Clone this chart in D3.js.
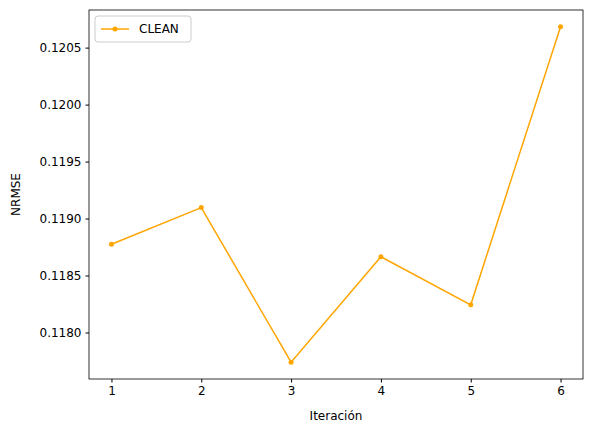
<!DOCTYPE html>
<html><head><meta charset="utf-8">
<script src="https://cdn.jsdelivr.net/npm/d3@7"></script>
<style>body{margin:0;background:#fff}text{font-family:"DejaVu Sans",sans-serif}</style>
</head><body><div id="chart"></div>
<script>
const iterations = [1, 2, 3, 4, 5, 6];
const nrmse = [0.118774, 0.119096, 0.117739, 0.118665, 0.118243, 0.120683];
const yTicks = [0.1180, 0.1185, 0.1190, 0.1195, 0.1200, 0.1205];
const seriesName = "CLEAN";

const W = 593, H = 432;
const m = {left: 89, right: 10, top: 10, bottom: 53};
const color = "orange";

const svg = d3.select("#chart").append("svg").attr("width", W).attr("height", H);

const x = d3.scaleLinear().domain([0.75, 6.25]).range([m.left, W - m.right]);
const ext = d3.extent(nrmse), pad = (ext[1] - ext[0]) * 0.05;
const y = d3.scaleLinear().domain([ext[0] - pad, ext[1] + pad]).range([H - m.bottom, m.top]);

const xAxis = svg.append("g").attr("transform", `translate(0,${H - m.bottom})`)
    .call(d3.axisBottom(x).tickValues(iterations).tickFormat(d3.format("d")).tickSize(3.5).tickPadding(4));
const yAxis = svg.append("g").attr("transform", `translate(${m.left},0)`)
    .call(d3.axisLeft(y).tickValues(yTicks).tickFormat(d3.format(".4f")).tickSize(3.5).tickPadding(4));
[xAxis, yAxis].forEach(a => {
    a.select(".domain").remove();
    a.selectAll("text").style("font-size", "12px").attr("fill", "#000");
    a.selectAll("line").attr("stroke", "#000");
});

svg.append("rect").attr("x", m.left).attr("y", m.top)
    .attr("width", W - m.left - m.right).attr("height", H - m.top - m.bottom)
    .attr("fill", "none").attr("stroke", "#000").attr("stroke-width", 0.8);

svg.append("path").datum(iterations.map((d, i) => [d, nrmse[i]]))
    .attr("fill", "none").attr("stroke", color).attr("stroke-width", 1.5)
    .attr("d", d3.line().x(d => x(d[0])).y(d => y(d[1])));
svg.selectAll(".pt").data(nrmse).join("circle")
    .attr("cx", (d, i) => x(iterations[i])).attr("cy", d => y(d)).attr("r", 2.5).attr("fill", color);

svg.append("text").attr("x", (m.left + W - m.right) / 2).attr("y", H - 12)
    .attr("text-anchor", "middle").style("font-size", "12px").text("Iteración");
svg.append("text").attr("transform", `translate(20,${(m.top + H - m.bottom) / 2}) rotate(-90)`)
    .attr("text-anchor", "middle").style("font-size", "12px").text("NRMSE");

const lg = svg.append("g").attr("transform", `translate(${m.left + 6},${m.top + 6})`);
lg.append("rect").attr("width", 96).attr("height", 26).attr("rx", 3)
    .attr("fill", "#fff").attr("stroke", "#ccc");
lg.append("line").attr("x1", 6).attr("x2", 34).attr("y1", 13).attr("y2", 13)
    .attr("stroke", color).attr("stroke-width", 1.5);
lg.append("circle").attr("cx", 20).attr("cy", 13).attr("r", 2.5).attr("fill", color);
lg.append("text").attr("x", 44).attr("y", 17).style("font-size", "12px").text(seriesName);
</script></body></html>
